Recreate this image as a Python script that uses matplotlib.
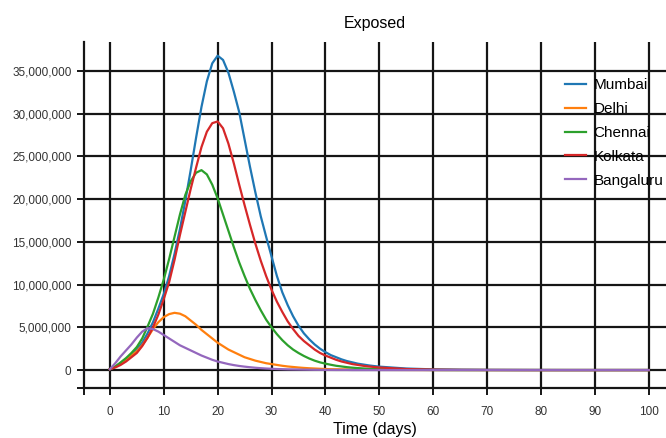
import matplotlib
matplotlib.use('Agg')
import matplotlib.pyplot as plt
from matplotlib.ticker import FuncFormatter

plt.rcParams['font.family'] = ['Liberation Sans', 'DejaVu Sans']

# days 0..50 daily, then every 5 days to 100
days = list(range(0, 51)) + [55, 60, 65, 70, 75, 80, 85, 90, 95, 100]

# exposed population, millions
mumbai = [0.1, 0.4, 0.8, 1.3, 1.8, 2.4, 3.2, 4.3, 5.6, 7.2, 8.9,
          11.0, 13.6, 16.5, 19.8, 23.4, 27.2, 30.8, 33.8, 35.9, 36.8,
          36.3, 34.8, 32.6, 30.2, 27.0, 23.8, 20.8, 18.0, 15.6, 13.3,
          11.0, 9.1, 7.6, 6.3, 5.2, 4.3, 3.6, 3.0, 2.5, 2.1,
          1.75, 1.5, 1.25, 1.05, 0.9, 0.75, 0.65, 0.55, 0.47, 0.4,
          0.18, 0.08, 0.04, 0.02, 0.01, 0.005, 0, 0, 0, 0]
delhi = [0.1, 0.4, 0.8, 1.2, 1.7, 2.2, 2.9, 3.8, 4.8, 5.6, 6.2,
         6.55, 6.7, 6.6, 6.3, 5.8, 5.3, 4.7, 4.2, 3.7, 3.2,
         2.8, 2.4, 2.1, 1.8, 1.5, 1.3, 1.1, 0.95, 0.8, 0.7,
         0.6, 0.5, 0.42, 0.36, 0.3, 0.25, 0.21, 0.18, 0.15, 0.12,
         0.1, 0.09, 0.08, 0.07, 0.06, 0.05, 0.04, 0.035, 0.03, 0.02,
         0.01, 0, 0, 0, 0, 0, 0, 0, 0, 0]
chennai = [0.1, 0.4, 0.9, 1.4, 2.0, 2.7, 3.7, 5.1, 6.6, 8.5, 10.6,
           13.0, 15.6, 18.2, 20.5, 22.1, 23.1, 23.4, 22.9, 21.7, 20.1,
           18.2, 16.3, 14.4, 12.6, 11.0, 9.5, 8.2, 7.0, 5.9, 5.0,
           4.2, 3.5, 2.9, 2.4, 2.0, 1.65, 1.35, 1.1, 0.9, 0.75,
           0.62, 0.5, 0.42, 0.34, 0.28, 0.23, 0.19, 0.15, 0.12, 0.1,
           0.04, 0.01, 0, 0, 0, 0, 0, 0, 0, 0]
kolkata = [0.1, 0.3, 0.6, 1.0, 1.5, 2.0, 2.8, 3.8, 5.0, 6.5, 8.3,
           10.3, 12.9, 15.8, 18.5, 21.2, 23.7, 26.1, 27.9, 28.9, 29.1,
           28.3, 26.5, 24.2, 21.7, 19.3, 17.0, 14.8, 12.8, 11.0, 9.4,
           8.0, 6.8, 5.7, 4.8, 4.0, 3.4, 2.9, 2.4, 2.0, 1.7,
           1.45, 1.2, 1.0, 0.85, 0.7, 0.6, 0.5, 0.42, 0.36, 0.3,
           0.12, 0.05, 0.02, 0.01, 0.005, 0, 0, 0, 0, 0]
bangaluru = [0.1, 0.8, 1.6, 2.3, 3.0, 3.8, 4.5, 4.9, 4.8, 4.5, 4.1,
             3.7, 3.3, 2.9, 2.6, 2.3, 2.0, 1.7, 1.45, 1.2, 1.0,
             0.85, 0.7, 0.58, 0.48, 0.4, 0.33, 0.27, 0.22, 0.18, 0.15,
             0.12, 0.1, 0.08, 0.07, 0.06, 0.05, 0.04, 0.03, 0.025, 0.02,
             0.015, 0.01, 0.01, 0.01, 0, 0, 0, 0, 0, 0,
             0, 0, 0, 0, 0, 0, 0, 0, 0, 0]

names = ['Mumbai', 'Delhi', 'Chennai', 'Kolkata', 'Bangaluru']
series = [mumbai, delhi, chennai, kolkata, bangaluru]
colors = ['#1f77b4', '#ff7f0e', '#2ca02c', '#d62728', '#9467bd']

fig = plt.figure(figsize=(6.66, 4.38), dpi=100)
ax = fig.add_axes([84/666, 50/438, 582/666, 346/438])

for name, vals, c in zip(names, series, colors):
    ax.plot(days, [v * 1e6 for v in vals], color=c, lw=1.6, label=name,
            zorder=3, solid_joinstyle='round')

ax.set_xlim(-4.8, 103.2)
ax.set_ylim(-2.1e6, 38.4e6)
ax.set_xticks(range(0, 101, 10))
ax.set_yticks([i * 5e6 for i in range(8)])
ax.set_xticks([-4.8], minor=True)
ax.set_yticks([-2.1e6], minor=True)
ax.yaxis.set_major_formatter(FuncFormatter(lambda v, p: '{:,.0f}'.format(v)))

ax.grid(True, which='major', color='#151515', lw=1.6, zorder=1)
for s in ['top', 'right']:
    ax.spines[s].set_visible(False)
for s in ['left', 'bottom']:
    ax.spines[s].set_linewidth(1.6)
    ax.spines[s].set_color('#151515')

ax.tick_params(which='both', length=5, width=1.4, color='#151515',
               labelsize=8.5, labelcolor='#333333')
ax.tick_params(axis='x', which='both', pad=8)
ax.tick_params(axis='y', which='both', pad=4)

ax.set_title('Exposed', fontsize=11.5, pad=10)
ax.set_xlabel('Time (days)', fontsize=11.5, labelpad=3)

ax.legend(loc='upper left', bbox_to_anchor=(565/666, 1 - 78/438),
          bbox_transform=fig.transFigure, frameon=False, fontsize=11,
          borderpad=0, borderaxespad=0, handlelength=1.4,
          handletextpad=0.45, labelspacing=0.65)

fig.savefig('out.png', dpi=100)
